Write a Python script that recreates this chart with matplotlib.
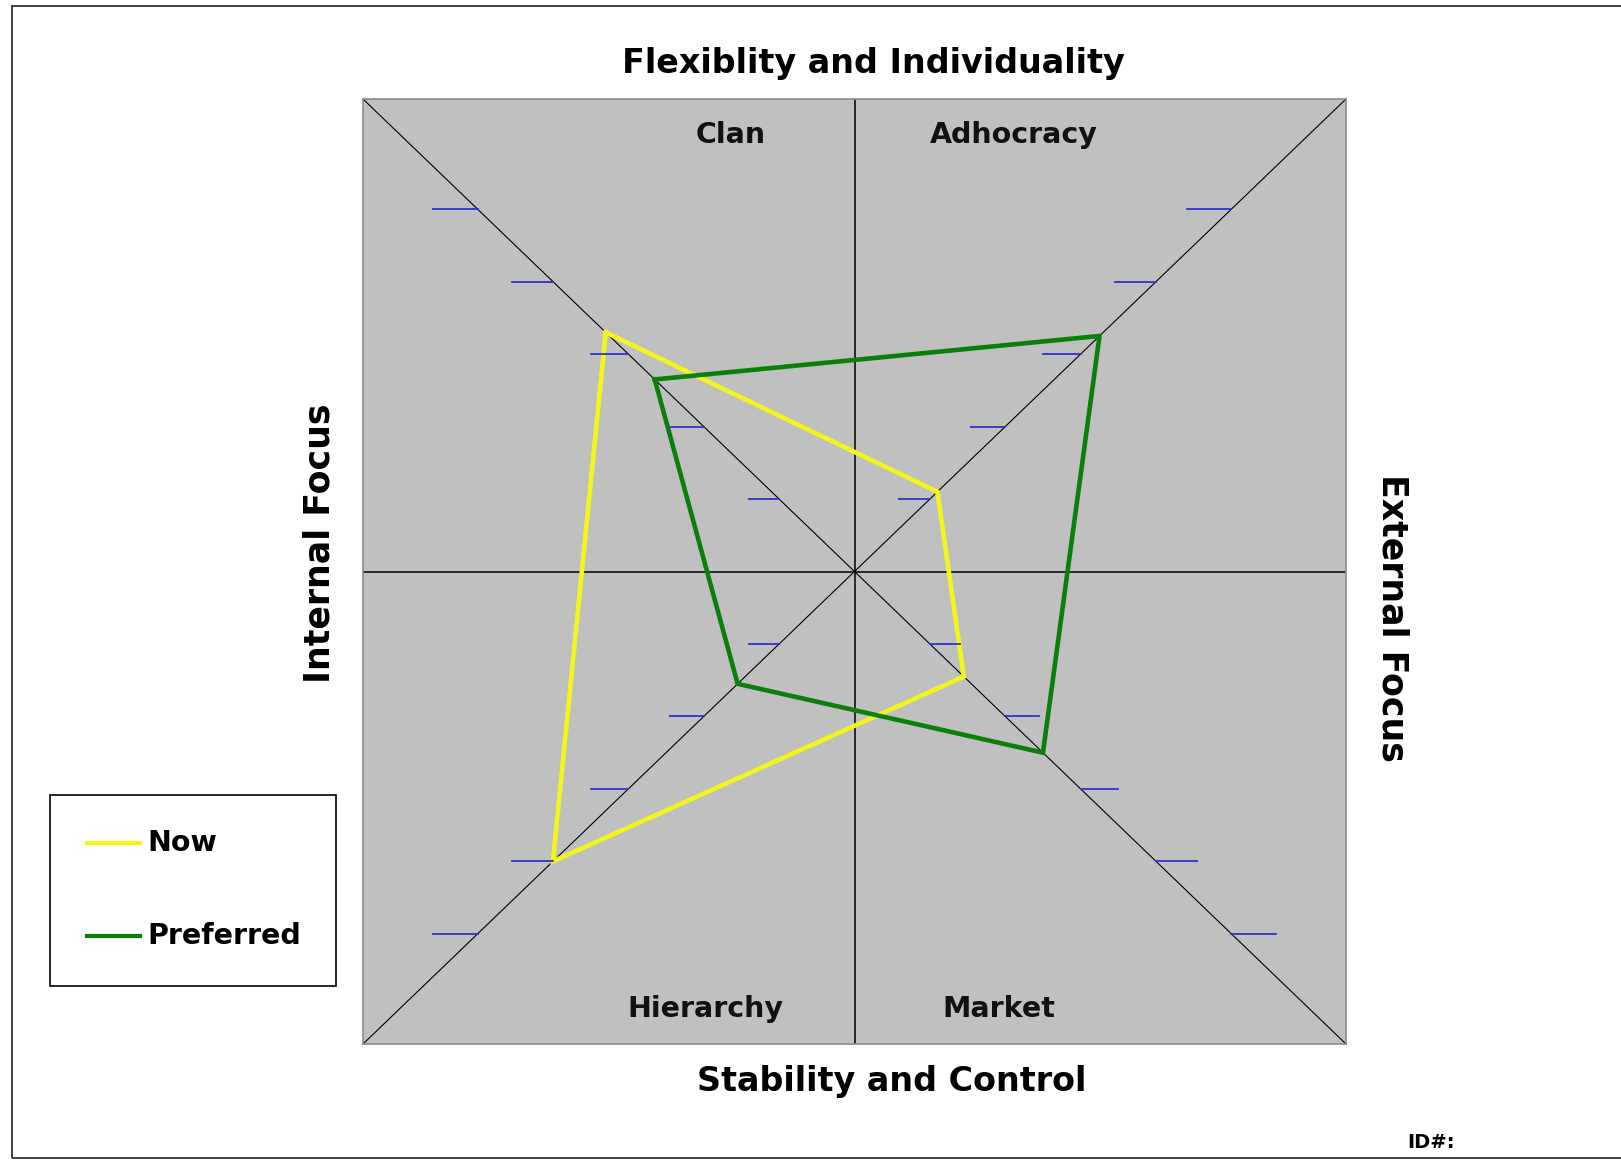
import matplotlib
matplotlib.use("Agg")
import matplotlib.pyplot as plt
from matplotlib.patches import Rectangle

# quadrant scores (Clan, Adhocracy, Market, Hierarchy)
quadrants = ["Clan", "Adhocracy", "Market", "Hierarchy"]
now_scores = [33, 11, 14.5, 40]
preferred_scores = [26.5, 32.5, 25, 15.5]
tick_values = [10, 20, 30, 40, 50]
axis_max = 65.2

# direction of each quadrant's diagonal axis, and which side its tick marks sit on
directions = {"Clan": (-1, 1), "Adhocracy": (1, 1), "Market": (1, -1), "Hierarchy": (-1, -1)}
tick_side = {"Clan": -1, "Adhocracy": -1, "Market": 1, "Hierarchy": -1}


def polygon(scores):
    xs = [directions[q][0] * s for q, s in zip(quadrants, scores)]
    ys = [directions[q][1] * s for q, s in zip(quadrants, scores)]
    return xs + xs[:1], ys + ys[:1]


W, H = 1621, 1160
fig = plt.figure(figsize=(W / 100, H / 100), dpi=100)
fig.patch.set_facecolor("white")

ax = fig.add_axes([363 / W, 1 - 1044 / H, 983 / W, 945 / H])
ax.set_facecolor("#c0c0c0")
ax.set_xlim(-axis_max, axis_max)
ax.set_ylim(-axis_max, axis_max)
ax.set_xticks([])
ax.set_yticks([])
for sp in ax.spines.values():
    sp.set_color("#8a8a8a")
    sp.set_linewidth(1.2)

# centre cross and diagonals
ax.axhline(0, color="black", lw=1.1, zorder=1)
ax.axvline(0, color="black", lw=1.1, zorder=1)
ax.plot([-axis_max, axis_max], [axis_max, -axis_max], color="black", lw=0.8, zorder=1)
ax.plot([-axis_max, axis_max], [-axis_max, axis_max], color="black", lw=0.8, zorder=1)

# data polygons
x, y = polygon(now_scores)
ax.plot(x, y, color="#f5f51e", lw=3.3, zorder=3, solid_joinstyle="miter", label="Now")
x, y = polygon(preferred_scores)
ax.plot(x, y, color="#0a800a", lw=3.3, zorder=3, solid_joinstyle="miter", label="Preferred")

# blue tick marks along the diagonals (they get a little longer further out)
for q in quadrants:
    dx, dy = directions[q]
    for v in tick_values:
        tl = 3.6 + 0.045 * v
        ax.plot([dx * v, dx * v + tick_side[q] * tl], [dy * v, dy * v],
                color="#3232c8", lw=1.3, zorder=4)

# quadrant names
lab_font = dict(fontsize=20.5, fontweight="bold", color="#111111", ha="center", va="center")
ax.text(-16.4, 60.2, "Clan", **lab_font)
ax.text(21.1, 60.2, "Adhocracy", **lab_font)
ax.text(-19.8, -60.4, "Hierarchy", **lab_font)
ax.text(19.2, -60.4, "Market", **lab_font)

# outer titles
fig.text(873 / W, 1 - 63 / H, "Flexiblity and Individuality", fontsize=24,
         fontweight="heavy", ha="center", va="center")
fig.text(892 / W, 1 - 1081 / H, "Stability and Control", fontsize=24,
         fontweight="heavy", ha="center", va="center")
fig.text(320 / W, 1 - 543 / H, "Internal Focus", fontsize=25, fontweight="heavy",
         rotation=90, ha="center", va="center")
fig.text(1393 / W, 1 - 618 / H, "External Focus", fontsize=25, fontweight="heavy",
         rotation=-90, ha="center", va="center")
fig.text(1431 / W, 1 - 1143 / H, "ID#:", fontsize=14, fontweight="heavy",
         ha="center", va="center")

# legend box drawn by hand to match the boxed layout
fig.add_artist(Rectangle((50 / W, 1 - 986 / H), 286 / W, 191 / H,
                         transform=fig.transFigure, fill=False, ec="black", lw=1.2))
for yy, name, col in [(843, "Now", "#f5f51e"), (936, "Preferred", "#0a800a")]:
    fig.add_artist(plt.Line2D([87 / W, 140 / W], [1 - yy / H, 1 - yy / H],
                              transform=fig.transFigure, color=col, lw=3.0))
    fig.text(147 / W, 1 - yy / H, name, fontsize=20.5, fontweight="bold",
             ha="left", va="center")

# thin frame round the whole picture
fig.add_artist(Rectangle((12 / W, 1 - 1158 / H), 1630 / W, 1152 / H,
                         transform=fig.transFigure, fill=False, ec="#333333", lw=1.3))

fig.savefig("out.png", dpi=100)
